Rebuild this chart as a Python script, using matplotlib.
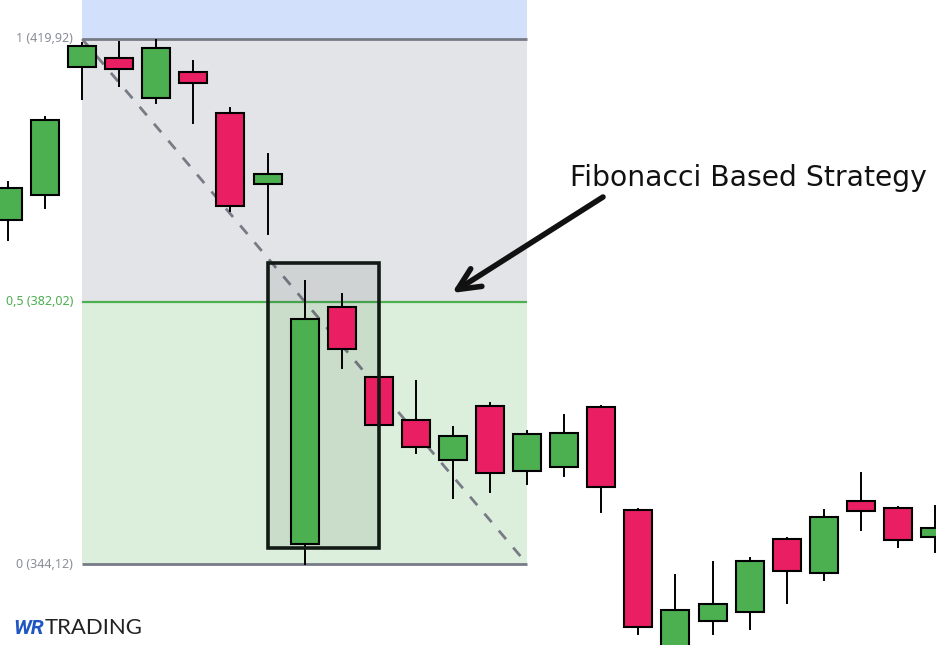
import matplotlib
matplotlib.use("Agg")
import matplotlib.pyplot as plt
from matplotlib.patches import Rectangle

# ---- data ----
opens  = [393.74, 397.35, 415.83, 417.13, 411.36, 415.11, 409.19, 398.94, 346.96, 381.18,
          371.08, 364.87, 359.09, 366.89, 357.50, 358.13, 366.74, 351.87, 331.70, 335.85,
          337.15, 347.69, 342.78, 353.17, 352.16, 347.98]
highs  = [399.27, 408.62, 419.34, 419.49, 419.78, 416.70, 409.96, 403.32, 384.98, 383.10,
          375.74, 370.54, 363.90, 367.32, 363.28, 365.63, 366.93, 352.02, 342.53, 344.41,
          344.99, 347.87, 351.92, 357.26, 352.35, 352.50]
lows   = [390.94, 395.56, 411.21, 413.18, 410.64, 407.84, 395.09, 391.81, 344.08, 372.46,
          363.08, 360.19, 353.69, 354.56, 355.71, 356.83, 351.67, 334.06, 330.98, 334.06,
          334.78, 338.53, 341.85, 349.07, 346.62, 345.90]
closes = [398.36, 408.23, 418.87, 415.55, 418.58, 413.52, 395.77, 400.39, 379.45, 375.12,
          364.15, 360.97, 362.56, 357.22, 362.85, 363.03, 355.19, 334.98, 337.44, 338.30,
          344.51, 343.07, 350.86, 351.73, 347.54, 349.28]

fib_high = 419.92
fib_mid = 382.02
fib_low = 344.12
fib_labels = ["1 (419,92)", "0,5 (382,02)", "0 (344,12)"]
fib_start, fib_end = 2, 14          # candle index range of the fib tool
box_x0, box_x1 = 7, 10              # highlight box (candle indices)
box_y0, box_y1 = 346.43, 387.58
title_text = "Fibonacci Based Strategy"

GREEN = "#4caf50"
RED = "#e91e63"
GRAY = "#787b86"

W, H = 936, 645
fig = plt.figure(figsize=(W / 100, H / 100), dpi=100)
ax = fig.add_axes([0, 0, 1, 1])
ax.set_xlim(-0.2157, 25.027)
ax.set_ylim(332.43, 425.55)
ax.axis("off")
renderer = fig.canvas.get_renderer()


def fit_width(t, target_px):
    bb = t.get_window_extent(renderer=renderer)
    t.set_fontsize(t.get_fontsize() * target_px / bb.width)


# fib zones
ax.add_patch(Rectangle((fib_start, fib_high), fib_end - fib_start, 10, facecolor="#d3e0fb",
                       edgecolor="none", zorder=0))
ax.add_patch(Rectangle((fib_start, fib_mid), fib_end - fib_start, fib_high - fib_mid,
                       facecolor="#e3e4e7", edgecolor="none", zorder=0))
ax.add_patch(Rectangle((fib_start, fib_low), fib_end - fib_start, fib_mid - fib_low,
                       facecolor="#dcefdc", edgecolor="none", zorder=0))
ax.plot([fib_start, fib_end], [fib_high, fib_high], color=GRAY, lw=2, zorder=1, solid_capstyle="butt")
ax.plot([fib_start, fib_end], [fib_mid, fib_mid], color=GREEN, lw=1.6, zorder=1, solid_capstyle="butt")
ax.plot([fib_start, fib_end], [fib_low, fib_low], color=GRAY, lw=2, zorder=1, solid_capstyle="butt")
ax.plot([fib_start, fib_end], [fib_high, fib_low], color=GRAY, lw=2, ls=(0, (4, 4)), zorder=1)

for lvl, lab, col in zip([fib_high, fib_mid, fib_low], fib_labels, ["#8a8d96", GREEN, "#8a8d96"]):
    ax.text(fib_start - 0.25, lvl, lab, ha="right", va="center", fontsize=9, color=col,
            family="Noto Sans")

# highlight box fill (below candles)
ax.add_patch(Rectangle((box_x0, box_y0), box_x1 - box_x0, box_y1 - box_y0,
                       facecolor="#0f2a1f", alpha=0.09, edgecolor="none", zorder=2))

# candles
w = 0.755
for i, (o, h, l, c) in enumerate(zip(opens, highs, lows, closes)):
    col = GREEN if c >= o else RED
    ax.plot([i, i], [l, h], color="black", lw=1.4, zorder=3)
    ax.add_patch(Rectangle((i - w / 2, min(o, c)), w, abs(c - o), facecolor=col,
                           edgecolor="black", lw=1.5, zorder=4))

# highlight box border
ax.add_patch(Rectangle((box_x0, box_y0), box_x1 - box_x0, box_y1 - box_y0,
                       facecolor="none", edgecolor="#111a14", lw=2.6, zorder=6))

# annotation
t = fig.text(570 / W, 1 - 178 / H, title_text, ha="left", va="center", fontsize=22,
             family="DejaVu Sans", color="#111111")
fit_width(t, 356)
ax.annotate("", xy=(452 / W, 1 - 293 / H), xytext=(603 / W, 1 - 197 / H),
            xycoords="figure fraction", textcoords="figure fraction",
            arrowprops=dict(arrowstyle="->,head_length=1.6,head_width=0.75", lw=4,
                            color="#111111", shrinkA=0, shrinkB=0, capstyle="round"),
            zorder=7)

# logo
t1 = fig.text(44 / W, 1 - 628 / H, "WR", ha="right", va="center", fontsize=15,
              fontweight="bold", fontstyle="italic", color="#1f56c3", family="Roboto")
t2 = fig.text(45 / W, 1 - 628 / H, "TRADING", ha="left", va="center", fontsize=15,
              color="#222222", family="Lato")
fit_width(t2, 98)

fig.savefig("out.png", dpi=100)
